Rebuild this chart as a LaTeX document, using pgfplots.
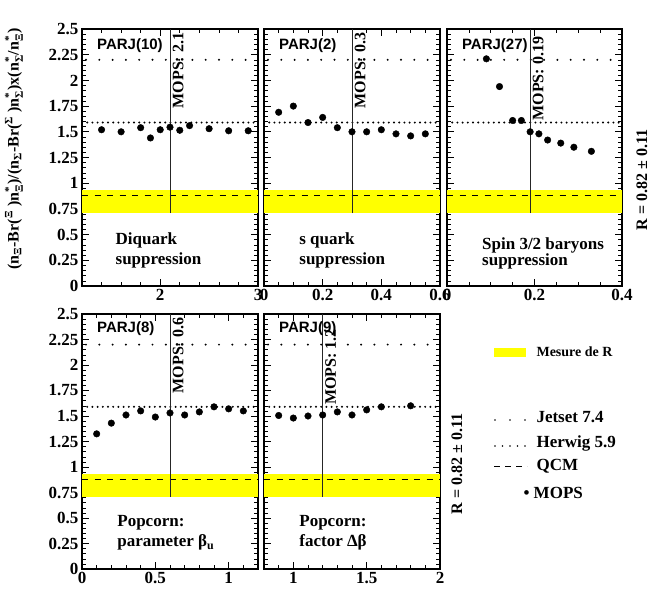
\documentclass[border=0pt]{standalone}
\usepackage{amsmath}
\usepackage{fontspec}
\setmainfont{Liberation Serif}
\newfontfamily\helv{Liberation Sans}
\usepackage{pgfplots}
\pgfplotsset{compat=1.18}

\definecolor{band}{RGB}{255,255,0}

\pgfplotsset{
  panel/.style={
    scale only axis, width=176pt, ymin=0, ymax=2.5,
    ytick={0,0.25,0.5,0.75,1,1.25,1.5,1.75,2,2.25,2.5},
    minor y tick num=4,
    tick align=inside, xtick pos=both, ytick pos=both,
    major tick length=7pt, minor tick length=4pt,
    every major tick/.append style={line width=0.8pt, black},
    every minor tick/.append style={line width=0.6pt, black},
    axis line style={line width=1.2pt},
    ticklabel style={font=\fontsize{17}{17}\selectfont\bfseries},
    /pgf/number format/assume math mode=true,
  },
  noy/.style={yticklabels={,,}},
  pts/.style={only marks, mark=*, mark size=3.3pt, black},
}
\tikzset{
  jetset/.style={black, line width=2.2pt, line cap=round, dash pattern=on 0pt off 13.3pt, dash phase=-4pt},
  herwig/.style={black, line width=2.2pt, line cap=round, dash pattern=on 0pt off 5.2pt},
  qcm/.style={black, line width=1pt, dash pattern=on 6pt off 6.5pt},
  mops/.style={black!85, line width=0.9pt},
  ptxt/.style={font=\helv\bfseries\fontsize{15}{15}\selectfont, anchor=north west, inner sep=0pt},
  dtxt/.style={font=\bfseries\fontsize{17}{20}\selectfont, anchor=north west, inner sep=0pt, align=left},
  mtxt/.style={font=\bfseries\fontsize{16}{16}\selectfont, rotate=90, anchor=north east, inner sep=2.5pt},
}

% reference lines of one panel: xmin, xmax, MOPS value
\newcommand{\refs}[3]{%
  \addplot[fill=band, draw=none] coordinates {(#1,0.71) (#2,0.71) (#2,0.93) (#1,0.93)} -- cycle;
  \addplot[jetset] coordinates {(#1,2.2) (#2,2.2)};
  \addplot[herwig] coordinates {(#1,1.59) (#2,1.59)};
  \addplot[qcm] coordinates {(#1,0.88) (#2,0.88)};
  \addplot[mops] coordinates {(#3,0.71) (#3,2.5)};
}
\newcommand{\sub}[1]{$_{\text{#1}}$}
\newcommand{\subs}[1]{$_{\text{#1}}^{\text{*}}$}

\begin{document}
\begin{tikzpicture}
\useasboundingbox (0,0) rectangle (669pt,595pt);

% ---- row 1 ----
\begin{axis}[panel, at={(82pt,309pt)}, anchor=south west, height=257pt,
  xmin=1.2, xmax=3, xtick={2,3}, minor xtick={1.4,1.6,1.8,2.2,2.4,2.6,2.8}]
  \refs{1.2}{3}{2.1}
  \addplot[pts] coordinates {(1.4,1.52) (1.6,1.50) (1.8,1.54) (1.9,1.44) (2.0,1.52)
    (2.1,1.545) (2.2,1.515) (2.3,1.56) (2.5,1.53) (2.7,1.51) (2.9,1.51)};
  \node[ptxt] at (rel axis cs:0.085,0.965) {PARJ(10)};
  \node[mtxt] at (axis cs:2.1,2.49) {MOPS: 2.1};
  \node[dtxt] at (rel axis cs:0.19,0.21) {Diquark\\suppression};
\end{axis}

\begin{axis}[panel, noy, at={(264pt,309pt)}, anchor=south west, height=257pt,
  xmin=0, xmax=0.6, xtick={0,0.2,0.4,0.6}, minor x tick num=3]
  \refs{0}{0.6}{0.3}
  \addplot[pts] coordinates {(0.05,1.69) (0.1,1.75) (0.15,1.59) (0.2,1.64) (0.25,1.54)
    (0.3,1.50) (0.35,1.50) (0.4,1.52) (0.45,1.48) (0.5,1.46) (0.55,1.48)};
  \node[ptxt] at (rel axis cs:0.085,0.965) {PARJ(2)};
  \node[mtxt] at (axis cs:0.3,2.49) {MOPS: 0.3};
  \node[dtxt] at (rel axis cs:0.2,0.21) {s quark\\suppression};
\end{axis}

\begin{axis}[panel, noy, at={(447pt,309pt)}, anchor=south west, height=257pt, width=175pt,
  xmin=0, xmax=0.4, xtick={0,0.2,0.4}, minor x tick num=3]
  \refs{0}{0.4}{0.19}
  \addplot[pts] coordinates {(0.09,2.21) (0.12,1.94) (0.15,1.61) (0.17,1.61) (0.19,1.50)
    (0.21,1.48) (0.23,1.42) (0.26,1.39) (0.29,1.35) (0.33,1.31)};
  \node[ptxt] at (rel axis cs:0.085,0.965) {PARJ(27)};
  \node[mtxt] at (axis cs:0.19,2.45) {MOPS: 0.19};
  \node[dtxt, font=\bfseries\fontsize{17}{16}\selectfont] at (rel axis cs:0.2,0.19) {Spin 3/2 baryons\\suppression};
\end{axis}

% ---- row 2 ----
\begin{axis}[panel, at={(82pt,26pt)}, anchor=south west, height=255pt,
  xmin=0, xmax=1.2, xtick={0,0.5,1}, minor xtick={0.1,0.2,0.3,0.4,0.6,0.7,0.8,0.9,1.1}]
  \refs{0}{1.2}{0.6}
  \addplot[pts] coordinates {(0.1,1.325) (0.2,1.43) (0.3,1.51) (0.4,1.55) (0.5,1.49)
    (0.6,1.53) (0.7,1.51) (0.8,1.54) (0.9,1.59) (1.0,1.57) (1.1,1.55)};
  \node[ptxt] at (rel axis cs:0.085,0.97) {PARJ(8)};
  \node[mtxt] at (axis cs:0.6,2.49) {MOPS: 0.6};
  \node[dtxt] at (rel axis cs:0.2,0.21) {Popcorn:\\parameter β\textsubscript{u}};
\end{axis}

\begin{axis}[panel, noy, at={(264pt,26pt)}, anchor=south west, height=255pt,
  xmin=0.8, xmax=2, xtick={1,1.5,2}, minor xtick={0.9,1.1,1.2,1.3,1.4,1.6,1.7,1.8,1.9}]
  \refs{0.8}{2}{1.2}
  \addplot[pts] coordinates {(0.9,1.505) (1.0,1.48) (1.1,1.50) (1.2,1.51) (1.3,1.54)
    (1.4,1.51) (1.5,1.56) (1.6,1.59) (1.8,1.60)};
  \node[ptxt] at (rel axis cs:0.085,0.97) {PARJ(9)};
  \node[mtxt, xshift=7pt] at (axis cs:1.2,2.31) {MOPS: 1.2};
  \node[dtxt] at (rel axis cs:0.2,0.21) {Popcorn:\\factor Δβ};
\end{axis}

% ---- y label and R labels ----
\node[rotate=90, font=\bfseries\fontsize{16}{16}\selectfont] at (14pt,446pt)
  {(n\sub{Ξ}-Br(\textsuperscript{Ξ}\ )n\subs{Ξ})/(n\sub{Σ}-Br(\textsuperscript{Σ}\ )n\subs{Σ})x(n\subs{Σ}/n\subs{Ξ})};
\node[rotate=90, font=\bfseries\fontsize{16}{16}\selectfont] at (642pt,415pt) {R = 0.82 ± 0.11};
\node[rotate=90, font=\bfseries\fontsize{16}{16}\selectfont] at (457pt,131pt) {R = 0.82 ± 0.11};

% ---- legend ----
\fill[band] (494pt,238pt) rectangle (526pt,247pt);
\node[anchor=west, font=\bfseries\fontsize{14}{14}\selectfont] at (533pt,243pt) {Mesure de R};
\draw[jetset, dash phase=0pt, dash pattern=on 0pt off 15pt, line width=1.8pt] (495pt,175pt) -- (526pt,175pt);
\node[anchor=west, font=\bfseries\fontsize{17}{17}\selectfont] at (533pt,178pt) {Jetset 7.4};
\draw[herwig, line width=1.8pt, dash pattern=on 0pt off 7.5pt] (495pt,149pt) -- (526pt,149pt);
\node[anchor=west, font=\bfseries\fontsize{17}{17}\selectfont] at (533pt,152pt) {Herwig 5.9};
\draw[qcm, dash pattern=on 6pt off 5pt] (494pt,129pt) -- (527pt,129pt);
\node[anchor=west, font=\bfseries\fontsize{17}{17}\selectfont] at (533pt,129pt) {QCM};
\node[anchor=west, font=\bfseries\fontsize{17}{17}\selectfont] at (520pt,102pt) {• MOPS};
\end{tikzpicture}
\end{document}
